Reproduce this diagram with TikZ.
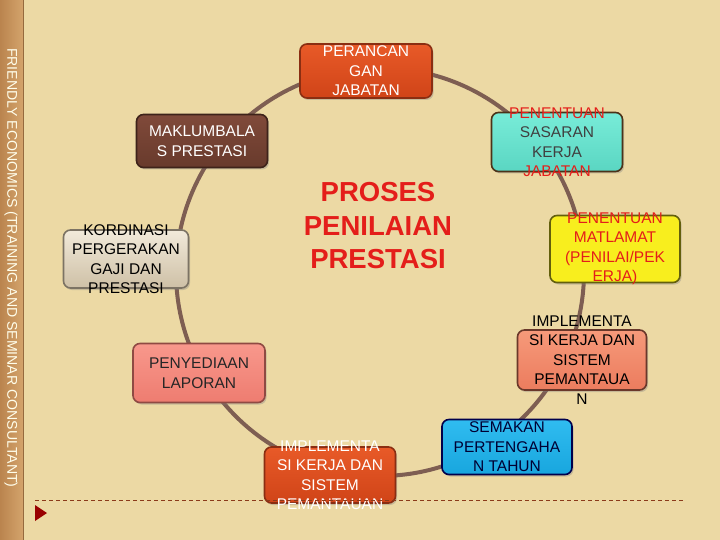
\documentclass[tikz,border=0pt]{standalone}
\usepackage{fontspec}
\setmainfont{Liberation Sans}
\usetikzlibrary{shadows}
\definecolor{parchment}{RGB}{236,217,164}
\definecolor{woodA}{RGB}{186,132,78}
\definecolor{woodB}{RGB}{212,164,108}
\definecolor{ringbrown}{RGB}{126,94,82}
\definecolor{rustA}{RGB}{232,90,40}
\definecolor{rustB}{RGB}{208,68,24}
\definecolor{rustline}{RGB}{138,46,18}
\definecolor{cocoaA}{RGB}{128,74,58}
\definecolor{cocoaB}{RGB}{104,58,44}
\definecolor{turqA}{RGB}{120,236,216}
\definecolor{turqB}{RGB}{90,214,194}
\definecolor{sandA}{RGB}{242,234,218}
\definecolor{sandB}{RGB}{206,192,166}
\definecolor{lemon}{RGB}{248,238,30}
\definecolor{pinkA}{RGB}{248,152,140}
\definecolor{pinkB}{RGB}{238,124,112}
\definecolor{salmA}{RGB}{246,154,122}
\definecolor{salmB}{RGB}{236,124,94}
\definecolor{skyA}{RGB}{48,188,240}
\definecolor{skyB}{RGB}{24,166,222}
\definecolor{titlered}{RGB}{228,30,26}
\definecolor{dashred}{RGB}{139,58,26}

\begin{document}
\begin{tikzpicture}[x=1pt, y=-1pt,
    box/.style={rectangle, rounded corners=7pt, draw, line width=1.6pt, inner sep=0pt,
        drop shadow={opacity=0.35, shadow xshift=1.5pt, shadow yshift=-2pt}},
    size/.style 2 args={minimum width=#1pt, minimum height=#2pt},
    txt/.style={align=center, inner sep=0pt, font=\fontsize{15.5}{19.5}\selectfont},
    ring/.style={draw=ringbrown, line width=4pt}
]
    % background
    \useasboundingbox (0,0) rectangle (720,540);
    \fill[parchment] (0,0) rectangle (720,540);
    \shade[left color=woodA, right color=woodB] (0,0) rectangle (23,540);
    \draw[woodA!80!black, line width=0.8pt] (23,0) -- (23,540);
    \node[rotate=-90, anchor=west, inner sep=0pt, text=white!92!yellow,
        font=\fontsize{14.1}{14}\selectfont] (brand) at (11,48)
        {FRIENDLY ECONOMICS (TRAINING AND SEMINAR CONSULTANT)};

    % cycle
    \coordinate (hub) at (380,272);
    \draw[ring] (hub) circle[radius=204pt];

    % boxes
    \node[box, size={132}{54}, top color=rustA, bottom color=rustB, draw=rustline] (rancang) at (366,71) {};
    \node[box, size={131}{53}, top color=cocoaA, bottom color=cocoaB, draw=cocoaB!60!black] (maklum) at (202,141) {};
    \node[box, size={131}{59}, top color=turqA, bottom color=turqB, draw=black!60!brown] (sasaran) at (557,142) {};
    \node[box, size={125}{58}, top color=sandA, bottom color=sandB, draw=sandB!60!black] (kordinasi) at (126,259) {};
    \node[box, size={130}{67}, fill=lemon, draw=lemon!40!black] (matlamat) at (615,249) {};
    \node[box, size={132}{59}, top color=pinkA, bottom color=pinkB, draw=pinkB!60!black] (laporan) at (199,373) {};
    \node[box, size={129}{60}, top color=salmA, bottom color=salmB, draw=salmB!45!black] (implA) at (582,360) {};
    \node[box, size={131}{56}, top color=rustA, bottom color=rustB, draw=rustline] (implB) at (330,475) {};
    \node[box, size={130}{55}, top color=skyA, bottom color=skyB, draw=black!70!blue] (semakan) at (507,447) {};

    % labels
    \node[txt, text=white] (rancangT) at (rancang) {PERANCAN\\GAN\\JABATAN};
    \node[txt, text=white] (maklumT) at (maklum) {MAKLUMBALA\\S PRESTASI};
    \node[txt, text=black!75] (sasaranT) at (sasaran)
        {\textcolor{titlered}{PENENTUAN}\\SASARAN\\KERJA\\\textcolor{titlered}{JABATAN}};
    \node[txt, text=black] (kordinasiT) at (kordinasi) {KORDINASI\\PERGERAKAN\\GAJI DAN\\PRESTASI};
    \node[txt, text=titlered] (matlamatT) at (matlamat) {PENENTUAN\\MATLAMAT\\(PENILAI/PEK\\ERJA)};
    \node[txt, text=black!85] (laporanT) at (laporan) {PENYEDIAAN\\LAPORAN};
    \node[txt, text=black] (implAT) at (implA) {IMPLEMENTA\\SI KERJA DAN\\SISTEM\\PEMANTAUA\\N};
    \node[txt, text=white] (implBT) at (implB) {IMPLEMENTA\\SI KERJA DAN\\SISTEM\\PEMANTAUAN};
    \node[txt, text=black!80!blue] (semakanT) at (semakan) {SEMAKAN\\PERTENGAHA\\N TAHUN};

    % title
    \node[align=center, text=titlered, inner sep=0pt,
        font=\fontsize{27.5}{33.5}\selectfont\bfseries] (proses) at (378,226)
        {PROSES\\PENILAIAN\\PRESTASI};

    % footer
    \draw[dashred, line width=0.8pt, dash pattern=on 4pt off 3pt] (35,500) -- (683,500);
    \fill[red!60!black] (35,505) -- (35,521) -- (47,513) -- cycle;
\end{tikzpicture}
\end{document}
